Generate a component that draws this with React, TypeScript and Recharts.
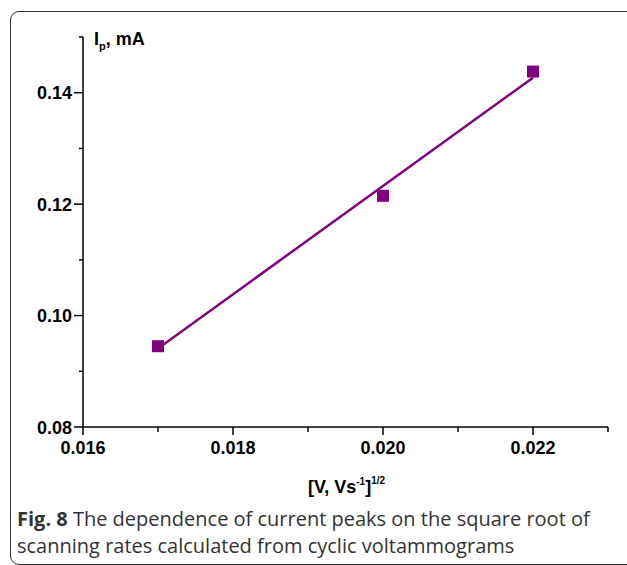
import React from "react";
import { ScatterChart, Scatter, XAxis, YAxis, Label } from "recharts";

// measured values (sqrt of scan rate vs peak current)
const SCAN_ROOT = [0.017, 0.02, 0.022];
const PEAK_CURRENT = [0.0945, 0.1215, 0.1438];

// endpoints of the fitted straight line
const FIT_X = [0.017, 0.022];
const FIT_Y = [0.0941, 0.1427];

const X_TICKS = [0.016, 0.017, 0.018, 0.019, 0.02, 0.021, 0.022, 0.023];
const Y_TICKS = [0.08, 0.09, 0.1, 0.11, 0.12, 0.13, 0.14, 0.15];

const PURPLE = "#800080";
const AXIS_FONT = "'Liberation Sans', Arial, sans-serif";

const points = SCAN_ROOT.map((x, i) => ({ x, y: PEAK_CURRENT[i] }));
const fit = FIT_X.map((x, i) => ({ x, y: FIT_Y[i] }));

function XTick({ x, y, payload }: any) {
  const major = Math.round(payload.value * 1000) % 2 === 0;
  return (
    <g>
      <line x1={x} x2={x} y1={y} y2={y + (major ? 8 : 5)} stroke="#000" strokeWidth={1.5} />
      {major && (
        <text x={x} y={y + 27} textAnchor="middle" fontSize={18} fontWeight="bold" fontFamily={AXIS_FONT} fill="#000">
          {payload.value.toFixed(3)}
        </text>
      )}
    </g>
  );
}

function YTick({ x, y, payload }: any) {
  const major = Math.round(payload.value * 100) % 2 === 0;
  return (
    <g>
      <line x1={x - (major ? 9 : 4)} x2={x} y1={y} y2={y} stroke="#000" strokeWidth={1.5} />
      {major && (
        <text x={x - 11} y={y + 6.5} textAnchor="end" fontSize={18} fontWeight="bold" fontFamily={AXIS_FONT} fill="#000">
          {payload.value.toFixed(2)}
        </text>
      )}
    </g>
  );
}

const Square = ({ cx, cy }: any) => <rect x={cx - 6} y={cy - 6} width={12} height={12} fill={PURPLE} />;

export default function App() {
  return (
    <div style={{ position: "absolute", left: 0, top: 0, width: 627, height: 565, overflow: "hidden", background: "#fff" }}>
      <div
        style={{
          position: "absolute",
          left: 10,
          top: 11,
          width: 700,
          height: 552,
          border: "1.5px solid #333",
          borderRadius: 9,
        }}
      />
      <div style={{ position: "absolute", left: 0, top: 0 }}>
        <ScatterChart width={627} height={565} margin={{ top: 37, right: 19, bottom: 108, left: 0 }}>
          <XAxis
            type="number"
            dataKey="x"
            domain={[0.016, 0.023]}
            ticks={X_TICKS}
            interval={0}
            height={30}
            tickSize={0}
            tickMargin={0}
            tickLine={false}
            axisLine={{ stroke: "#000", strokeWidth: 1.5 }}
            tick={<XTick />}
          >
            <Label
              content={({ viewBox }: any) => (
                <text
                  x={viewBox.x + viewBox.width / 2 + 1}
                  y={viewBox.y + 66}
                  textAnchor="middle"
                  fontSize={18}
                  fontWeight="bold"
                  fontFamily={AXIS_FONT}
                  fill="#000"
                >
                  [V, Vs
                  <tspan fontSize={10} dy={-8}>-1</tspan>
                  <tspan dy={8}>]</tspan>
                  <tspan fontSize={10} dy={-9}>1/2</tspan>
                </text>
              )}
            />
          </XAxis>
          <YAxis
            type="number"
            dataKey="y"
            domain={[0.08, 0.15]}
            ticks={Y_TICKS}
            interval={0}
            width={83}
            tickSize={0}
            tickMargin={0}
            tickLine={false}
            axisLine={{ stroke: "#000", strokeWidth: 1.5 }}
            tick={<YTick />}
          >
            <Label
              content={({ viewBox }: any) => (
                <text x={viewBox.x + 94} y={viewBox.y + 8} fontSize={18} fontWeight="bold" fontFamily={AXIS_FONT} fill="#000">
                  I
                  <tspan fontSize={11} dy={5}>p</tspan>
                  <tspan dy={-5}>, mA</tspan>
                </text>
              )}
            />
          </YAxis>
          <Scatter
            data={fit}
            line={{ stroke: PURPLE, strokeWidth: 2.5 }}
            shape={() => <g />}
            isAnimationActive={false}
          />
          <Scatter data={points} shape={<Square />} isAnimationActive={false} />
        </ScatterChart>
      </div>
      <div
        style={{
          position: "absolute",
          left: 17,
          top: 505,
          fontFamily: "'Open Sans', sans-serif",
          fontSize: 20,
          lineHeight: "27px",
          color: "#333",
          whiteSpace: "nowrap",
        }}
      >
        <b>Fig. 8</b> The dependence of current peaks on the square root of
        <br />
        scanning rates calculated from cyclic voltammograms
      </div>
    </div>
  );
}
